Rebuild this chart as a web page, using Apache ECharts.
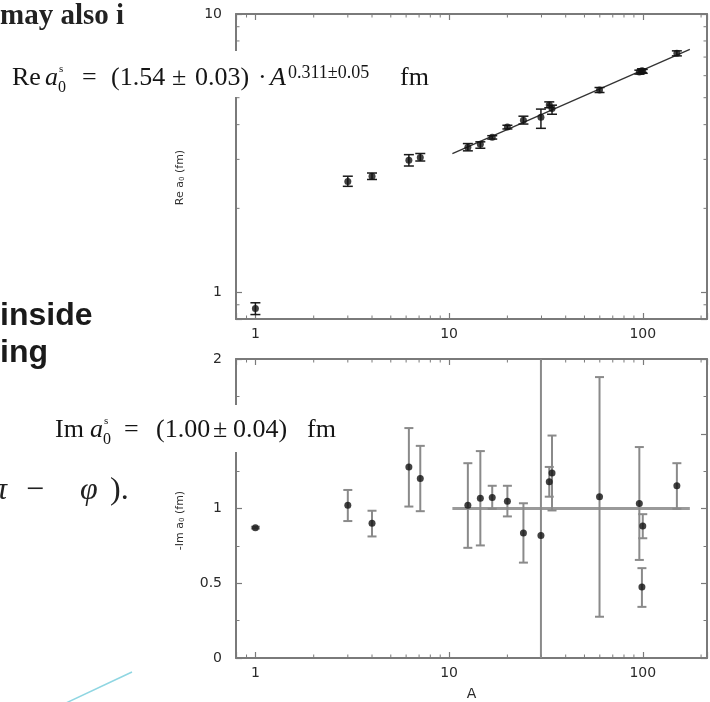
<!DOCTYPE html>
<html><head><meta charset="utf-8">
<script src="https://cdn.jsdelivr.net/npm/echarts@6/dist/echarts.min.js"></script>
<style>html,body{margin:0;padding:0;background:#fff;}#c{width:710px;height:702px;}</style>
</head><body><div id="c"></div>
<script>
// ---- data ----
const massNumbers = [1, 3, 4, 6.2, 7.1, 12.5, 14.5, 16.7, 20, 24.2, 29.8, 32.9, 34, 59.8, 96, 99, 100, 150];
const reA0     = [0.873, 2.50, 2.61, 2.98, 3.05, 3.32, 3.40, 3.60, 3.92, 4.15, 4.25, 4.71, 4.57, 5.33, 6.18, 6.25, 6.22, 7.22];
const reA0Low  = [0.830, 2.40, 2.54, 2.84, 2.96, 3.22, 3.29, 3.55, 3.86, 4.02, 3.88, 4.60, 4.36, 5.22, 6.08, 6.15, 6.12, 7.07];
const reA0High = [0.915, 2.61, 2.68, 3.12, 3.15, 3.42, 3.47, 3.65, 3.98, 4.29, 4.55, 4.83, 4.70, 5.44, 6.28, 6.35, 6.32, 7.37];
const imA0     = [0.872, 1.022, 0.901, 1.278, 1.201, 1.022, 1.068, 1.073, 1.048, 0.836, 0.819, 1.179, 1.238, 1.079, 1.033, 0.475, 0.883, 1.152];
const imA0Low  = [0.866, 0.916, 0.813, 1.013, 0.982, 0.737, 0.753, 0.998, 0.947, 0.638, -0.5, 1.079, 0.987, 0.276, 0.656, 0.342, 0.801, 0.998];
const imA0High = [0.878, 1.124, 0.985, 1.538, 1.419, 1.303, 1.384, 1.152, 1.152, 1.035, 2.5, 1.278, 1.488, 1.879, 1.411, 0.601, 0.962, 1.303];
const fitA  = [10.4, 175];
const fitRe = [3.146, 7.46];
const meanA  = [10.4, 175];
const meanIm = [1.0, 1.0];
const xMinorTicks = [0.9, 2, 3, 4, 5, 6, 7, 8, 9, 20, 30, 40, 50, 60, 70, 80, 90, 200];
const yMinorTicksRe = [0.9, 2, 3, 4, 5, 6, 7, 8, 9];
const xRange = [0.794, 214.6];
const yRangeRe = [0.8, 10];
const yRangeIm = [0, 2];

// ---- styling ----
const AX = '#7a7a7a';
const LBL = {color: '#2a2a2a', fontFamily: 'DejaVu Sans', fontSize: 14};
function powLabel(v) {
  const l = Math.log10(v);
  return Math.abs(l - Math.round(l)) < 1e-6 ? String(Math.round(v)) : '';
}
function logX(gi, pos, labels, extra) {
  return Object.assign({
    type: 'log', logBase: 10, gridIndex: gi, position: pos, min: xRange[0], max: xRange[1],
    axisLine: {show: true, onZero: false, lineStyle: {color: AX, width: 2}},
    axisTick: {show: true, inside: true, length: 6, lineStyle: {color: AX, width: 1.2}},
    axisLabel: Object.assign({show: labels, margin: 8, formatter: powLabel}, LBL),
    splitLine: {show: false}, minorTick: {show: false}
  }, extra || {});
}
const errRender = (color, lw, half) => function (params, api) {
  const cs = params.coordSys;
  const x = api.coord([api.value(0), api.value(1)])[0];
  let yLo = api.coord([api.value(0), api.value(1)])[1];
  let yHi = api.coord([api.value(0), api.value(2)])[1];
  const top = cs.y, bot = cs.y + cs.height;
  const kids = [];
  const capLo = yLo <= bot, capHi = yHi >= top;
  yLo = Math.min(yLo, bot); yHi = Math.max(yHi, top);
  const st = {stroke: color, lineWidth: lw};
  kids.push({type: 'line', shape: {x1: x, y1: yLo, x2: x, y2: yHi}, style: st});
  if (capLo) kids.push({type: 'line', shape: {x1: x - half, y1: yLo, x2: x + half, y2: yLo}, style: st});
  if (capHi) kids.push({type: 'line', shape: {x1: x - half, y1: yHi, x2: x + half, y2: yHi}, style: st});
  return {type: 'group', children: kids};
};
const minorX = function (params, api) {
  const cs = params.coordSys;
  const x = api.coord([api.value(0), api.value(1)])[0];
  const st = {stroke: AX, lineWidth: 1};
  return {type: 'group', children: [
    {type: 'line', shape: {x1: x, y1: cs.y + cs.height, x2: x, y2: cs.y + cs.height - 3.5}, style: st},
    {type: 'line', shape: {x1: x, y1: cs.y, x2: x, y2: cs.y + 3.5}, style: st}
  ]};
};
const minorY = function (params, api) {
  const cs = params.coordSys;
  const y = api.coord([api.value(0), api.value(1)])[1];
  const st = {stroke: AX, lineWidth: 1};
  return {type: 'group', children: [
    {type: 'line', shape: {x1: cs.x, y1: y, x2: cs.x + 3.5, y2: y}, style: st},
    {type: 'line', shape: {x1: cs.x + cs.width, y1: y, x2: cs.x + cs.width - 3.5, y2: y}, style: st}
  ]};
};

// ---- slide text overlay helpers ----
function T(text, x, baseline, size, o) {
  o = o || {};
  return {
    type: 'text', x: x, y: baseline - 0.34 * size, z: 101, silent: true,
    style: {
      text: text, fill: o.fill || '#151515', verticalAlign: 'middle', align: 'left',
      fontFamily: o.family || 'Liberation Serif', fontSize: size,
      fontStyle: o.italic ? 'italic' : 'normal', fontWeight: o.bold ? 'bold' : 'normal'
    }
  };
}
const F = 26;
const graphics = [
  {type: 'rect', z: 100, silent: true, shape: {x: 8, y: 51, width: 428, height: 46}, style: {fill: '#fff'}},
  {type: 'rect', z: 100, silent: true, shape: {x: 48, y: 405, width: 292, height: 47}, style: {fill: '#fff'}},
  T('may also i', 0, 26, 29, {bold: true, fill: '#222'}),
  // Re formula
  T('Re', 12, 87, F), T('a', 45, 87, F, {italic: true}), T('0', 58, 93, 16), T('s', 59, 73, 11),
  T('=', 82, 87, F), T('(1.54', 111, 87, F), T('±', 172, 87, F), T('0.03)', 195, 87, F),
  T('·', 258, 87, F), T('A', 270, 87, F, {italic: true}), T('0.311±0.05', 288, 79, 18),
  T('fm', 400, 87, F),
  // Im formula
  T('Im', 55, 439, F), T('a', 90, 439, F, {italic: true}), T('0', 103, 445, 16), T('s', 104, 425, 11),
  T('=', 124, 439, F), T('(1.00', 156, 439, F), T('±', 213, 439, F), T('0.04)', 233, 439, F),
  T('fm', 307, 439, F),
  // slide body text
  T('inside', 0, 327, 32, {family: 'Liberation Sans', bold: true, fill: '#1a1a1a'}),
  T('ing', 0, 364, 32, {family: 'Liberation Sans', bold: true, fill: '#1a1a1a'}),
  T('π', -9, 501, 32, {italic: true, fill: '#222'}),
  T('−', 26, 501, 32, {fill: '#222'}),
  T('φ', 80, 501, 32, {italic: true, fill: '#222'}),
  T(').', 110, 501, 32, {fill: '#222'}),
  {type: 'line', z: 100, silent: true, shape: {x1: 132, y1: 672, x2: 66, y2: 703}, style: {stroke: '#8fd6e2', lineWidth: 1.5}}
];

const chart = echarts.init(document.getElementById('c'), null, {renderer: 'canvas'});
chart.setOption({
  animation: false,
  backgroundColor: '#fff',
  grid: [
    {left: 236, top: 14, width: 473, height: 305},
    {left: 236, top: 359, width: 473, height: 304}
  ],
  xAxis: [
    logX(0, 'bottom', true),
    logX(0, 'top', false),
    logX(1, 'bottom', true, {name: 'A', nameLocation: 'middle', nameGap: 29,
      nameTextStyle: {color: '#2a2a2a', fontFamily: 'DejaVu Sans', fontSize: 14}}),
    logX(1, 'top', false)
  ],
  yAxis: [
    {type: 'log', logBase: 10, gridIndex: 0, position: 'left', min: yRangeRe[0], max: yRangeRe[1],
     name: 'Re a{s|0} (fm)', nameLocation: 'middle', nameRotate: 90, nameGap: 50,
     nameTextStyle: {color: '#333', fontFamily: 'DejaVu Sans', fontSize: 11, padding: [0, 22, 0, 0],
       rich: {s: {fontSize: 7, fontFamily: 'DejaVu Sans', color: '#333', verticalAlign: 'bottom', padding: [4, 0, 0, 0]}}},
     axisLine: {show: true, onZero: false, lineStyle: {color: AX, width: 2}},
     axisTick: {show: true, inside: true, length: 6, lineStyle: {color: AX, width: 1.2}},
     axisLabel: Object.assign({margin: 14, formatter: powLabel}, LBL),
     splitLine: {show: false}},
    {type: 'log', logBase: 10, gridIndex: 0, position: 'right', min: yRangeRe[0], max: yRangeRe[1],
     axisLine: {show: true, onZero: false, lineStyle: {color: AX, width: 2}},
     axisTick: {show: true, inside: true, length: 6, lineStyle: {color: AX, width: 1.2}},
     axisLabel: {show: false}, splitLine: {show: false}},
    {type: 'value', gridIndex: 1, position: 'left', min: yRangeIm[0], max: yRangeIm[1], interval: 0.5,
     name: '-Im a{s|0} (fm)', nameLocation: 'middle', nameRotate: 90, nameGap: 50,
     nameTextStyle: {color: '#333', fontFamily: 'DejaVu Sans', fontSize: 11, padding: [0, 24, 0, 0],
       rich: {s: {fontSize: 7, fontFamily: 'DejaVu Sans', color: '#333', verticalAlign: 'bottom', padding: [4, 0, 0, 0]}}},
     axisLine: {show: true, onZero: false, lineStyle: {color: AX, width: 2}},
     axisTick: {show: true, inside: true, length: 6, lineStyle: {color: AX, width: 1.2}},
     minorTick: {show: true, splitNumber: 2, length: 3.5, lineStyle: {color: AX, width: 1}},
     axisLabel: Object.assign({margin: 14}, LBL),
     splitLine: {show: false}},
    {type: 'value', gridIndex: 1, position: 'right', min: yRangeIm[0], max: yRangeIm[1], interval: 0.5,
     axisLine: {show: true, onZero: false, lineStyle: {color: AX, width: 2}},
     axisTick: {show: true, inside: true, length: 6, lineStyle: {color: AX, width: 1.2}},
     minorTick: {show: true, splitNumber: 2, length: 3.5, lineStyle: {color: AX, width: 1}},
     axisLabel: {show: false}, splitLine: {show: false}}
  ],
  series: [
    {type: 'custom', xAxisIndex: 0, yAxisIndex: 0, silent: true, z: 1,
     data: xMinorTicks.map(v => [v, 1]), renderItem: minorX},
    {type: 'custom', xAxisIndex: 0, yAxisIndex: 0, silent: true, z: 1,
     data: yMinorTicksRe.map(v => [1, v]), renderItem: minorY},
    {type: 'custom', xAxisIndex: 2, yAxisIndex: 2, silent: true, z: 1,
     data: xMinorTicks.map(v => [v, 1]), renderItem: minorX},
    {type: 'line', xAxisIndex: 0, yAxisIndex: 0, silent: true, symbol: 'none', z: 2,
     data: fitA.map((a, i) => [a, fitRe[i]]), lineStyle: {color: '#333', width: 1.3}},
    {type: 'line', xAxisIndex: 2, yAxisIndex: 2, silent: true, symbol: 'none', z: 2,
     data: meanA.map((a, i) => [a, meanIm[i]]), lineStyle: {color: '#9a9a9a', width: 3}},
    {type: 'custom', xAxisIndex: 0, yAxisIndex: 0, silent: true, z: 3,
     data: massNumbers.map((a, i) => [a, reA0Low[i], reA0High[i]]),
     encode: {x: 0, y: [1, 2]}, renderItem: errRender('#1a1a1a', 1.5, 5)},
    {type: 'custom', xAxisIndex: 2, yAxisIndex: 2, silent: true, z: 3,
     data: massNumbers.map((a, i) => [a, imA0Low[i], imA0High[i]]),
     encode: {x: 0, y: [1, 2]}, renderItem: errRender('#8a8a8a', 2, 4.5)},
    {type: 'scatter', xAxisIndex: 0, yAxisIndex: 0, silent: true, z: 4, symbol: 'circle', symbolSize: 7,
     itemStyle: {color: '#111'}, data: massNumbers.map((a, i) => [a, reA0[i]])},
    {type: 'scatter', xAxisIndex: 2, yAxisIndex: 2, silent: true, z: 4, symbol: 'circle', symbolSize: 7,
     itemStyle: {color: '#111'}, data: massNumbers.map((a, i) => [a, imA0[i]])}
  ],
  graphic: graphics
});
</script>
</body></html>
